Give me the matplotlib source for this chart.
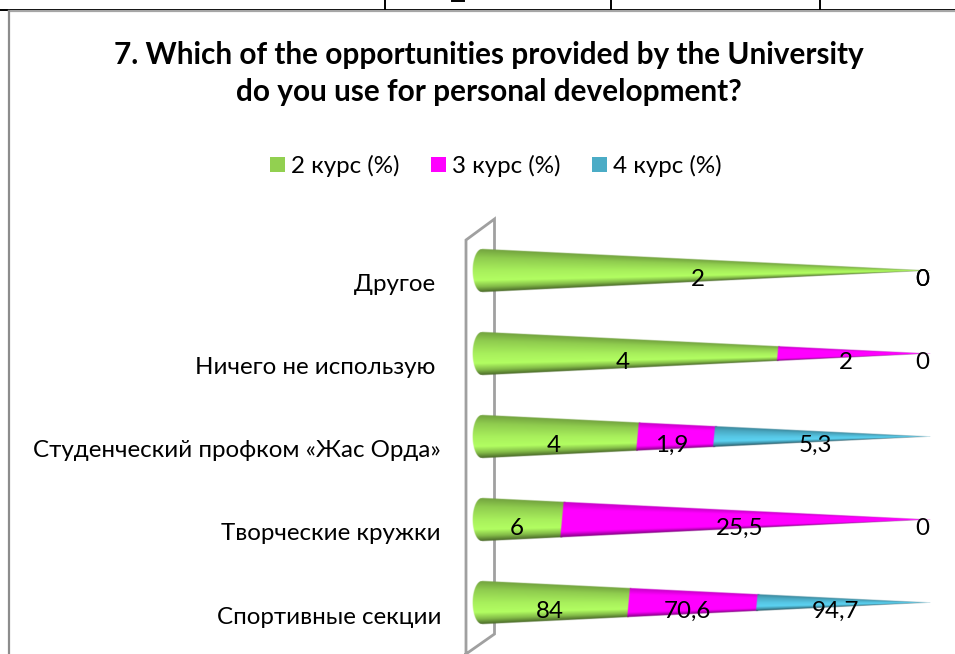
import numpy as np
import matplotlib
matplotlib.use("Agg")
import matplotlib.pyplot as plt
from matplotlib.patches import Patch
from matplotlib.transforms import ScaledTranslation

plt.rcParams['font.family'] = ['Lato', 'Open Sans']

# bottom to top, as in the chart
categories = ['Спортивные секции', 'Творческие кружки', 'Студенческий профком «Жас Орда»',
              'Ничего не использую ', 'Другое ']
course2 = [84, 6, 4, 4, 2]
course3 = [70.6, 25.5, 1.9, 2, 0]
course4 = [94.7, 0, 5.3, 0, 0]
label2 = ['84', '6', '4', '4', '2']
label3 = ['70,6', '25,5', '1,9', '2', '0']
label4 = ['94,7', '0', '5,3', '0', '0']
series_names = ['2 курс (%)', '3 курс (%)', '4 курс (%)']
series_colors = ['#92D050', '#FF00FF', '#4BACC6']

title = "7. Which of the opportunities provided by the University\ndo you use for personal development?"

W, H = 955, 654
shade_v = [-1.0, -0.6, 0.0, 0.45, 0.75, 1.0]
shade_k = [0.78, 0.98, 1.15, 1.22, 0.9, 0.5]


def edge_x(x0, Y, yc, R, B):
    # where a piece starts or ends, row by row: round at the base, a slanted cut further on
    r0 = max(R * (1 - x0 / 100), 1e-6)
    v0 = (Y - yc) / r0
    if x0 == 0:
        return x0 - B * np.sqrt(np.clip(1 - v0 ** 2, 0, 1))
    return x0 - 0.7 * B * (1 - x0 / 100) + 0.45 * (1 - x0 / 100) * np.clip(v0, -1, 1)


def cone_piece(ax, yc, x0, x1, color, R=0.259, B=2.1, px_x=4.46, px_y=83.0):
    # one stretch of a cone standing on its side, shaded across its height
    rgb = np.array(matplotlib.colors.to_rgb(color))
    left = x0 - B * (1 - x0 / 100) - 1.0
    right = min(x1 + 1.0, 101)
    ss = 2
    nx = int((right - left) * px_x * ss)
    ny = int(2 * R * px_y * ss) + 4
    xs = np.linspace(left, right, nx)
    ys = np.linspace(yc + R + 0.02, yc - R - 0.02, ny)
    X, Y = np.meshgrid(xs, ys)
    r = np.maximum(R * (1 - np.maximum(X, 0) / 100), 1e-6)
    v = (Y - yc) / r
    k = np.interp(-v, shade_v, shade_k)
    img = np.zeros(X.shape + (4,))
    for c in range(3):
        img[..., c] = np.clip(rgb[c] * k, 0, 1)
    xl = edge_x(x0, Y, yc, R, B)
    xr = edge_x(x1, Y, yc, R, B)
    # the right end runs on a little, the next piece is painted over it
    a = np.clip((X - xl) * px_x + 0.5, 0, 1) * np.clip((xr - X) * px_x + 2.5, 0, 1)
    a = a * np.clip((r - np.abs(Y - yc)) * px_y + 0.5, 0, 1)
    img[..., 3] = a
    ax.imshow(img, extent=(left, right, yc - R - 0.02, yc + R + 0.02), aspect='auto',
              clip_on=False, zorder=3)


fig = plt.figure(figsize=(W / 100, H / 100), dpi=100)

# page furniture: table lines above the chart, chart frame, side wall
bg = fig.add_axes([0, 0, 1, 1], zorder=0)
bg.set_xlim(0, W)
bg.set_ylim(H, 0)
bg.axis('off')
bg.plot([0, W], [9.5, 9.5], color='black', lw=1.4)
bg.plot([9, W], [11, 11], color='#a6a6a6', lw=1.6)
bg.plot([9, 9], [10.5, H], color='#8c8c8c', lw=1.6)
for xv in [385, 611, 820]:
    bg.plot([xv, xv], [0, 9], color='black', lw=1.4)
bg.plot([452, 464], [0.5, 0.5], color='black', lw=1.4)
wall_x = [466, 466, 494.5, 494.5, 466]
wall_y = [654, 240, 219, 634, 654]
bg.plot(wall_x, wall_y, color='#a0a0a0', lw=2, solid_joinstyle='miter')

ax = fig.add_axes([482 / W, 1 - 644.5 / H, 446 / W, 415 / H], zorder=2)
ax.patch.set_alpha(0)

y_pos = np.arange(len(categories))
for i in y_pos:
    vals = [course2[i], course3[i], course4[i]]
    texts = [label2[i], label3[i], label4[i]]
    total = sum(vals)
    start = 0.0
    for val, col, txt in zip(vals, series_colors, texts):
        share = val / total * 100
        if share > 0:
            cone_piece(ax, i, start, start + share, col)
        dx = -5.4 if share > 0 else -3.9
        ax.annotate(txt, (start + share / 2, i), xytext=(dx, -6), textcoords='offset points',
                    ha='center', va='center', fontsize=17.4, color='black', zorder=5)
        start += share

ax.set_xlim(0, 100)
ax.set_ylim(-0.5, 4.5)
ax.set_xticks([])
ax.set_yticks(y_pos, categories, fontsize=17.4)
ax.tick_params(axis='y', length=0, pad=29.5)
for lbl in ax.get_yticklabels():
    lbl.set_transform(lbl.get_transform() + ScaledTranslation(0, -12 / 100, fig.dpi_scale_trans))
for s in ax.spines.values():
    s.set_visible(False)

handles = [Patch(facecolor=c, edgecolor='none') for c in series_colors]
fig.legend(handles, series_names, loc='center', bbox_to_anchor=(495.5 / W, 1 - 166 / H), ncol=3,
           frameon=False, fontsize=17.4, handlelength=0.62, handleheight=0.62,
           handletextpad=0.25, columnspacing=1.3)

fig.text(489 / W, 1 - 73.5 / H, title, ha='center', va='center', fontsize=21.4, fontweight='bold',
         linespacing=1.36, color='black')

fig.savefig('out.png', dpi=100)
